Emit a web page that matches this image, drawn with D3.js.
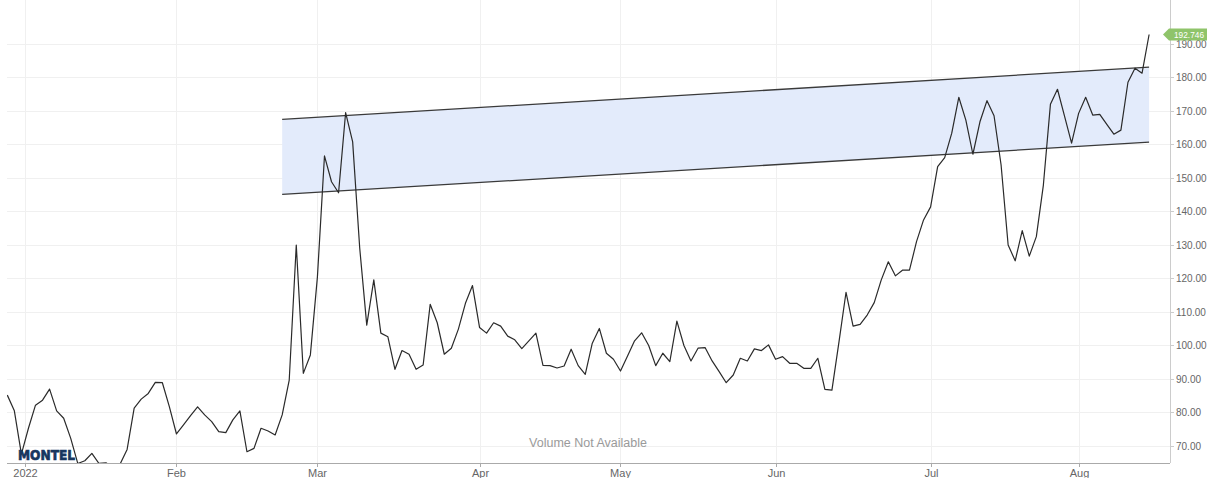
<!DOCTYPE html>
<html>
<head>
<meta charset="utf-8">
<script src="https://cdn.jsdelivr.net/npm/d3@7"></script>
<style>
  body { margin: 0; background: #fff; }
  svg { display: block; font-family: "Liberation Sans", Arial, sans-serif; }
</style>
</head>
<body>
<div id="chart"></div>
<script>
// Daily prices (trading days, late Dec 2021 -> mid Aug 2022)
const prices = [
  85.1, 80.4, 67.5, 75.2, 82.1, 83.6, 86.9, 80.4, 78.2, 72.2,
  64.7, 65.5, 67.7, 64.7, 64.9, 63.5, 64.5, 68.9, 81.2, 83.9,
  85.6, 88.9, 88.8, 81.6, 73.5, 76.2, 79.0, 81.6, 79.2, 77.2,
  74.2, 73.9, 77.7, 80.4, 68.2, 69.2, 75.2, 74.4, 73.2, 79.2,
  89.6, 129.9, 91.6, 97.1, 120.4, 156.5, 148.8, 145.5, 169.4, 160.7,
  129.0, 106.0, 119.5, 103.6, 102.5, 92.8, 98.4, 97.3, 92.8, 94.1,
  112.2, 106.7, 97.3, 99.1, 104.8, 112.5, 117.8, 105.3, 103.6, 106.7,
  105.7, 102.7, 101.6, 99.0, 101.3, 103.6, 94.0, 93.9, 93.2, 93.8,
  98.8, 93.9, 91.3, 100.6, 105.0, 97.6, 95.8, 92.3, 96.8, 101.3,
  103.7, 99.9, 93.9, 97.6, 95.1, 107.2, 99.9, 95.3, 99.1, 99.3,
  95.3, 92.1, 88.8, 91.1, 96.1, 95.3, 98.9, 98.4, 100.1, 95.8,
  96.6, 94.6, 94.6, 93.1, 93.1, 96.1, 86.8, 86.6, 101.0, 115.8,
  105.7, 106.2, 109.0, 112.7, 119.5, 124.9, 120.7, 122.4, 122.4, 130.9,
  137.4, 141.3, 153.3, 156.0, 163.3, 174.0, 167.2, 157.0, 166.7, 173.0,
  168.5, 153.8, 129.9, 125.2, 134.2, 126.6, 132.4, 147.8, 171.9, 176.4,
  168.4, 160.3, 169.2, 174.0, 168.7, 168.9, 165.9, 163.0, 164.2, 178.5,
  182.7, 181.2, 192.746
]

// Month ticks on the ordinal (trading day) axis
const monthLabels = ["2022", "Feb", "Mar", "Apr", "May", "Jun", "Jul", "Aug"]
const monthIdx = [2.5, 24, 44, 67, 87, 109, 131, 152]

const yTicks = [70, 80, 90, 100, 110, 120, 130, 140, 150, 160, 170, 180, 190]

// Trend channel: start / end day and upper / lower values
const channelIdx = [39, 162]
const channelUpper = [167.4, 183.0]
const channelLower = [145.0, 160.6]

const lastLabel = "192.746"

const width = 1208
const height = 478
const plot = { left: 7, right: 1170, top: 0, bottom: 463 }

const svg = d3.select("#chart")
  .append("svg")
  .attr("width", width)
  .attr("height", height)

const x = d3.scaleLinear().domain([0, prices.length - 1]).range([7.3, 1149.1])
const y = d3.scaleLinear().domain([70, 190]).range([445.7, 43.7])

svg.append("clipPath")
  .attr("id", "plotclip")
  .append("rect")
  .attr("x", plot.left)
  .attr("y", plot.top)
  .attr("width", plot.right - plot.left)
  .attr("height", plot.bottom - plot.top)

// Grid
svg.append("g")
  .selectAll("line")
  .data(yTicks)
  .join("line")
  .attr("x1", plot.left)
  .attr("x2", plot.right)
  .attr("y1", (d) => Math.round(y(d)) + 0.5)
  .attr("y2", (d) => Math.round(y(d)) + 0.5)
  .attr("stroke", "#f0f0f0")

svg.append("g")
  .selectAll("line")
  .data(monthIdx)
  .join("line")
  .attr("x1", (d) => Math.round(x(d)) + 0.5)
  .attr("x2", (d) => Math.round(x(d)) + 0.5)
  .attr("y1", plot.top)
  .attr("y2", plot.bottom)
  .attr("stroke", "#f0f0f0")

// Channel band
const band = channelIdx.map((d, i) => ({ i: d, hi: channelUpper[i], lo: channelLower[i] }))

svg.append("path")
  .datum(band)
  .attr("fill", "#e3ebfb")
  .attr("d", d3.area().x((d) => x(d.i)).y0((d) => y(d.lo)).y1((d) => y(d.hi)))

const edge = (key) => d3.line().x((d) => x(d.i)).y((d) => y(d[key]))
;["hi", "lo"].forEach((k) => {
  svg.append("path")
    .datum(band)
    .attr("fill", "none")
    .attr("stroke", "#3a3a3a")
    .attr("stroke-width", 1.3)
    .attr("d", edge(k))
})

// Volume note
svg.append("text")
  .attr("x", 588)
  .attr("y", 447)
  .attr("text-anchor", "middle")
  .attr("fill", "#9a9a9a")
  .style("font-size", "12.5px")
  .text("Volume Not Available")

// Price line
svg.append("path")
  .datum(prices)
  .attr("clip-path", "url(#plotclip)")
  .attr("fill", "none")
  .attr("stroke", "#2a2a2a")
  .attr("stroke-width", 1.2)
  .attr("stroke-linejoin", "round")
  .attr("d", d3.line().x((d, i) => x(i)).y((d) => y(d)))

// Logo
svg.append("text")
  .attr("x", 18)
  .attr("y", 460)
  .attr("fill", "#17365f")
  .attr("stroke", "#17365f")
  .attr("stroke-width", 0.7)
  .attr("textLength", 57)
  .attr("lengthAdjust", "spacingAndGlyphs")
  .style("font-family", "'DejaVu Sans', sans-serif")
  .style("font-weight", "bold")
  .style("font-size", "13.5px")
  .text("MONTEL")

// X axis
const xAxis = svg.append("g")
xAxis.append("line")
  .attr("x1", plot.left)
  .attr("x2", plot.right)
  .attr("y1", plot.bottom + 0.5)
  .attr("y2", plot.bottom + 0.5)
  .attr("stroke", "#aaa")

const xt = xAxis.selectAll("g.tick")
  .data(monthIdx)
  .join("g")
  .attr("class", "tick")
  .attr("transform", (d) => `translate(${Math.round(x(d)) + 0.5},${plot.bottom})`)

xt.append("line").attr("y1", 0).attr("y2", 4).attr("stroke", "#aaa")
xt.append("text")
  .attr("y", 14)
  .attr("text-anchor", "middle")
  .attr("fill", "#666")
  .style("font-size", "11px")
  .text((d, i) => monthLabels[i])

// Y axis on the right
const yAxis = svg.append("g")
yAxis.append("line")
  .attr("x1", plot.right + 0.5)
  .attr("x2", plot.right + 0.5)
  .attr("y1", plot.top)
  .attr("y2", plot.bottom)
  .attr("stroke", "#ccc")

const yt = yAxis.selectAll("g.tick")
  .data(yTicks)
  .join("g")
  .attr("class", "tick")
  .attr("transform", (d) => `translate(${plot.right},${Math.round(y(d)) + 0.5})`)

yt.append("line").attr("x1", 0).attr("x2", 4).attr("stroke", "#ccc")
yt.append("text")
  .attr("x", 6)
  .attr("dy", "0.35em")
  .attr("fill", "#666")
  .style("font-size", "10px")
  .text((d) => d.toFixed(2))

// Last price flag
const ly = y(prices[prices.length - 1])
svg.append("path")
  .attr("fill", "#8fc46a")
  .attr("d", `M1163,${ly} L1169,${ly - 6} L1207,${ly - 6} L1207,${ly + 6} L1169,${ly + 6} Z`)
svg.append("text")
  .attr("x", 1174)
  .attr("y", ly)
  .attr("dy", "0.35em")
  .attr("fill", "#fff")
  .attr("textLength", 30)
  .attr("lengthAdjust", "spacingAndGlyphs")
  .style("font-size", "9.5px")
  .text(lastLabel)
</script>
</body>
</html>
